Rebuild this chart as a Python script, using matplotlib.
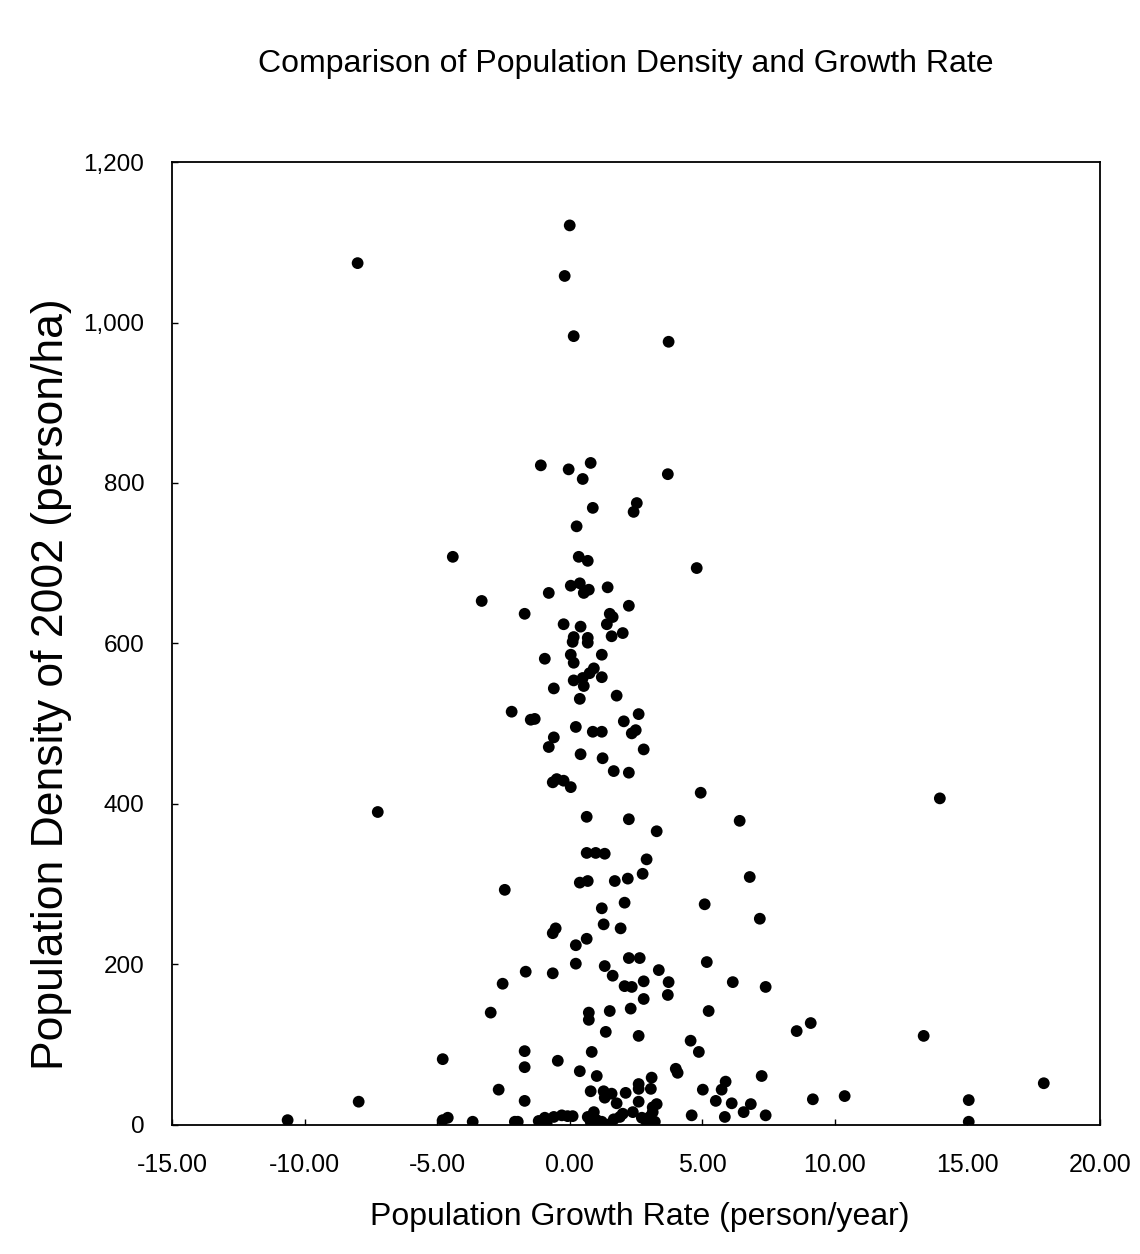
import matplotlib
matplotlib.use("Agg")
import matplotlib.pyplot as plt
from matplotlib.ticker import FuncFormatter

plt.rcParams["font.family"] = ["Liberation Sans", "DejaVu Sans"]
plt.rcParams["axes.unicode_minus"] = False

# Population growth rate (person/year)
growth = [
    0.00, -8.00, -0.19, 0.15, 3.73, -1.09, -0.04, 0.79, 0.49, 3.70,
    0.87, 2.53, 2.41, 0.26, -4.41, 0.34, 0.68, 4.79, 0.04, 0.38,
    0.72, 0.53, 1.43, -3.32, -0.79, -1.70, 2.23, 1.51, 1.62, 1.40,
    -0.23, 0.41, 0.15, 0.11, 0.68, 0.68, 1.58, 2.00, -0.94, 0.04,
    0.15, 1.21, 0.91, 0.75, 1.21, 0.15, 0.49, 0.53, -0.60, 0.38,
    1.77, -2.19, -1.47, -1.32, 0.23, 0.87, 1.21, 2.04, 2.60, 2.49,
    2.34, -0.60, -0.79, 0.41, 1.24, 2.79, 1.66, 2.23, -0.64, -0.49,
    -0.23, 0.04, 4.94, 0.64, 2.23, 3.28, 0.64, 0.98, 1.32, 2.90,
    2.75, 0.38, 0.68, 1.70, 2.19, -2.45, 1.21, 2.07, 5.09, -0.53,
    -0.64, 1.28, 1.92, 0.23, 0.64, -2.53, -1.66, -0.64, 0.23, 1.32,
    1.62, 2.23, 2.64, 3.36, 5.17, 3.73, 2.79, 2.07, 2.34, 3.70,
    2.79, -2.98, 0.72, 0.72, 1.51, 2.30, 5.24, 1.36, 2.60, -1.70,
    -1.70, -0.45, 0.83, -4.79, 0.38, 1.02, 4.56, 4.87, 4.00, 4.07,
    3.09, 2.60, 2.60, 3.06, 0.79, 1.28, 1.58, 1.32, 2.11, 1.77,
    2.60, 3.28, 3.13, -2.68, -1.70, 5.02, 5.51, 4.60, -4.79, -4.60,
    -3.66, -2.07, -1.96, -1.17, -0.94, -0.87, -0.60, -0.30, -0.08, 0.11,
    0.68, 0.91, 0.79, 1.02, 1.21, 1.51, 1.66, 1.89, 2.00, 2.38,
    2.72, 3.02, 3.13, 3.21, 2.90, -10.64, -7.96, -7.24, 8.56, 9.09,
    13.35, 5.88, 5.73, 6.11, 7.24, 6.83, 6.56, 7.39, 5.85, 9.17,
    10.37, 15.05, 15.05, 17.88, 13.96, 6.41, 6.79, 7.17, 6.15, 7.39,
]

# Population density of 2002 (person/ha)
density = [
    1121, 1074, 1058, 983, 976, 822, 817, 825, 805, 811,
    769, 775, 764, 746, 708, 708, 703, 694, 672, 675,
    667, 663, 670, 653, 663, 637, 647, 637, 633, 624,
    624, 621, 608, 602, 607, 601, 609, 613, 581, 586,
    576, 586, 569, 563, 558, 554, 557, 547, 544, 531,
    535, 515, 505, 506, 496, 490, 490, 503, 512, 492,
    488, 483, 471, 462, 457, 468, 441, 439, 427, 431,
    429, 421, 414, 384, 381, 366, 339, 339, 338, 331,
    313, 302, 304, 304, 307, 293, 270, 277, 275, 245,
    239, 250, 245, 224, 232, 176, 191, 189, 201, 198,
    186, 208, 208, 193, 203, 178, 179, 173, 172, 162,
    157, 140, 140, 131, 142, 145, 142, 116, 111, 92,
    72, 80, 91, 82, 67, 61, 105, 91, 70, 65,
    59, 51, 45, 45, 42, 42, 39, 34, 40, 27,
    29, 26, 22, 44, 30, 44, 30, 12, 6, 9,
    4, 4, 4, 5, 9, 2, 10, 12, 11, 11,
    10, 16, 4, 6, 4, 1, 7, 10, 14, 16,
    9, 10, 16, 4, 4, 6, 29, 390, 117, 127,
    111, 54, 44, 27, 61, 26, 16, 12, 10, 32,
    36, 31, 4, 52, 407, 379, 309, 257, 178, 172,
]

X_TICKS = [-15, -10, -5, 0, 5, 10, 15, 20]
Y_TICKS = [0, 200, 400, 600, 800, 1000, 1200]

fig = plt.figure(figsize=(11.4, 12.54), dpi=100)
ax = fig.add_axes([0.1509, 0.1029, 0.8140, 0.7679])

ax.scatter(growth, density, s=72, color="black", edgecolors="none", zorder=3)

ax.set_xlim(-15, 20)
ax.set_ylim(0, 1200)
ax.set_xticks(X_TICKS)
ax.set_yticks(Y_TICKS)
ax.xaxis.set_major_formatter(FuncFormatter(lambda v, p: f"{v:.2f}"))
ax.yaxis.set_major_formatter(FuncFormatter(lambda v, p: f"{int(v):,}"))
ax.tick_params(axis="both", direction="in", length=4, width=1, colors="black")
ax.tick_params(axis="x", labelsize=18, pad=20)
ax.tick_params(axis="y", labelsize=17.5, pad=20)
for sp in ax.spines.values():
    sp.set_linewidth(1.3)
    sp.set_color("black")

fig.text(0.549, 0.949, "Comparison of Population Density and Growth Rate",
         ha="center", va="center", fontsize=23)
fig.text(0.561, 0.0295, "Population Growth Rate (person/year)",
         ha="center", va="center", fontsize=23)
fig.text(0.045, 0.454, "Population Density of 2002 (person/ha)",
         ha="center", va="center", rotation=90, fontsize=32)

fig.savefig("out.png", dpi=100, facecolor="white")
